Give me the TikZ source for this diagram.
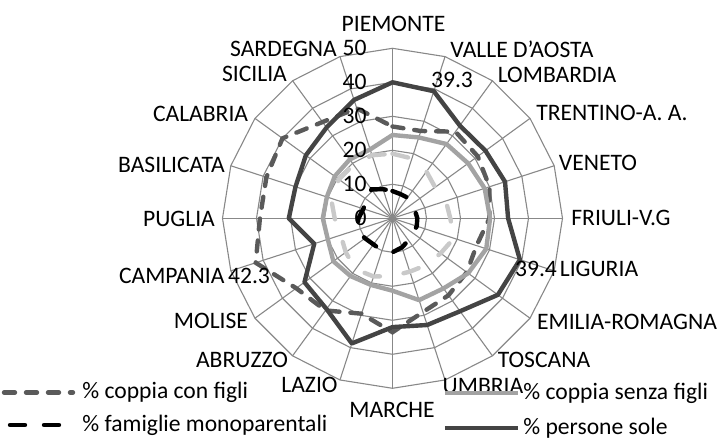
\documentclass[tikz,border=0pt]{standalone}
\usepackage{fontspec}
\setmainfont{Carlito}
\usetikzlibrary{positioning}

\definecolor{gridgray}{HTML}{888888}
\definecolor{darkdash}{HTML}{5A5A5A}
\definecolor{lightline}{HTML}{A3A3A3}
\definecolor{lightdash}{HTML}{C9C9C9}
\definecolor{darkline}{HTML}{444444}

\tikzset{
  gridline/.style={gridgray, line width=0.55pt},
  lbl/.style={inner sep=0pt, font=\fontsize{11.8}{14}\selectfont},
  cfline/.style={darkdash, line width=2.2pt, line cap=round, dash pattern=on 5.5pt off 5.5pt},
  sfline/.style={lightline, line width=2.2pt, line join=round},
  mpline/.style={black, line width=2.2pt, line cap=round, dash pattern=on 7.5pt off 9.5pt},
  alline/.style={lightdash, line width=2.2pt, line cap=round, dash pattern=on 8pt off 12pt},
  psline/.style={darkline, line width=2.2pt, line join=round}
}

\begin{document}
\begin{tikzpicture}[x=0.5pt, y=0.5pt]
  \useasboundingbox (0,0) rectangle (720,439);

  \def\d{3.4}
  \def\cflist{27,27,31.5,31,30,28.5,26,27,28,29,33.5,29.5,33.5,35,42.3,39,39,40,35,34}
  \def\sflist{24.5,25,27,27.5,28.5,28.7,29,27.5,25.5,25.3,21.3,20.6,21,21.5,20,20.5,20.3,21,21.4,21.3}
  \def\mplist{8,7.5,7.5,7,7,7.3,7.5,7.5,8,9,10,10,9.5,10,11,10,9,9.5,10.5,9}
  \def\allist{19,18.5,17,15.5,16.5,17,19,17.5,17,16.5,17,18,18.5,17,16,17,19,19.5,19.5,19.5}
  \def\pslist{40,39.3,33.7,33.8,34.8,34,39.4,38.3,33.8,33,32,38.7,33,32,24.2,30.5,30,31.5,33,36.6}

  \begin{scope}[shift={(392.5,220.7)}]
    % rings and spokes
    \foreach \k in {1,...,5} {
      \draw[gridline] (90:{\k*10*\d}) \foreach \i in {1,...,19} { -- ({90-18*\i}:{\k*10*\d}) } -- cycle;
    }
    \foreach \i in {0,...,19} {
      \coordinate (sp\i) at ({90-18*\i}:{50*\d});
      \draw[gridline] (0,0) -- (sp\i);
    }

    \foreach \v [count=\i from 0] in \cflist { \coordinate (cf\i) at ({90-18*\i}:{\v*\d}); }
    \foreach \v [count=\i from 0] in \sflist { \coordinate (sf\i) at ({90-18*\i}:{\v*\d}); }
    \foreach \v [count=\i from 0] in \mplist { \coordinate (mp\i) at ({90-18*\i}:{\v*\d}); }
    \foreach \v [count=\i from 0] in \allist { \coordinate (al\i) at ({90-18*\i}:{\v*\d}); }
    \foreach \v [count=\i from 0] in \pslist { \coordinate (ps\i) at ({90-18*\i}:{\v*\d}); }
  \end{scope}

  \draw[cfline] (cf0) \foreach \i in {1,...,19} { -- (cf\i) } -- cycle;
  \draw[sfline] (sf0) \foreach \i in {1,...,19} { -- (sf\i) } -- cycle;
  \draw[mpline] (mp0) \foreach \i in {1,...,19} { -- (mp\i) } -- cycle;
  \draw[alline] (al0) \foreach \i in {1,...,19} { -- (al\i) } -- cycle;
  \draw[psline] (ps0) \foreach \i in {1,...,19} { -- (ps\i) } -- cycle;

  % axis values
  \foreach \k/\t in {0/0,1/10,2/20,3/30,4/40,5/50} {
    \node[lbl, anchor=east] (ax\k) at (367,{220.7+34*\k}) {\t};
  }

  % regions
  \foreach \name/\x/\y/\txt in {
      pie/393.5/415/PIEMONTE, vda/522/390/VALLE D'AOSTA, lom/557/364/LOMBARDIA,
      tre/612/326.5/TRENTINO-A. A., ven/598/276.5/VENETO, fri/621/221/FRIULI-V.G,
      lig/599/170/LIGURIA, emi/627/117/EMILIA-ROMAGNA, tos/544/79/TOSCANA,
      umb/483/53/UMBRIA, mar/392/29/MARCHE, laz/309.5/54/LAZIO,
      abr/242/79/ABRUZZO, mol/211/118/MOLISE, cam/171.7/163/CAMPANIA,
      pug/179/220.5/PUGLIA, bas/171.5/274.5/BASILICATA, cal/200.6/325.5/CALABRIA,
      sic/254.5/365/SICILIA, sar/283.5/390/SARDEGNA} {
    \node[lbl] (\name) at (\x,\y) {\txt};
  }

  \node[lbl] (v39a) at (452,359.5) {39.3};
  \node[lbl] (v39b) at (536,170) {39.4};
  \node[lbl] (v42) at (249,163) {42.3};

  % legend
  \coordinate (lg1a) at (4,46.5);   \coordinate (lg1b) at (73,46.5);
  \coordinate (lg2a) at (10,14);    \coordinate (lg2b) at (60,14);
  \coordinate (lg3a) at (445,46);   \coordinate (lg3b) at (518,46);
  \coordinate (lg4a) at (445,11);   \coordinate (lg4b) at (518,11);
  \draw[cfline] (lg1a) -- (lg1b);
  \draw[mpline] (lg2a) -- (lg2b);
  \draw[sfline] (lg3a) -- (lg3b);
  \draw[psline] (lg4a) -- (lg4b);
  \node[lbl, right=4.5pt of lg1b] (lg1) {\% coppia con figli};
  \node[lbl, right=11pt of lg2b] (lg2) {\% famiglie monoparentali};
  \node[lbl, right=2.5pt of lg3b] (lg3) {\% coppia senza figli};
  \node[lbl, right=2.5pt of lg4b] (lg4) {\% persone sole};

\end{tikzpicture}
\end{document}
